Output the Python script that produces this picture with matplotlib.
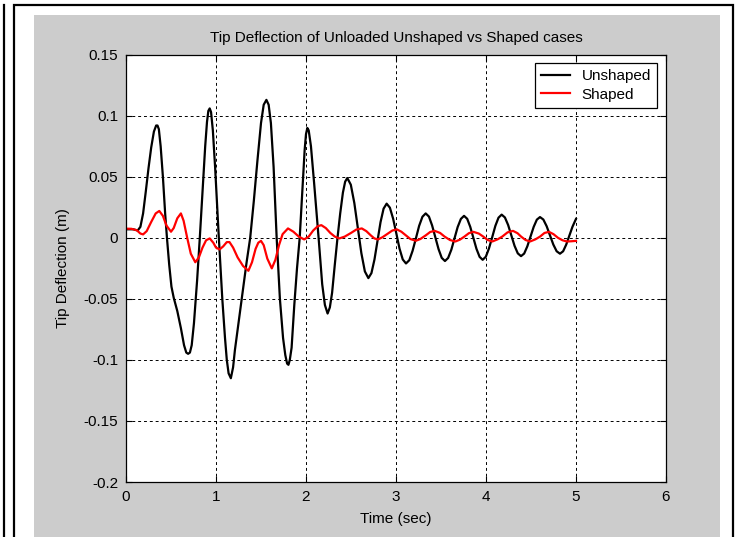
import matplotlib
matplotlib.use("Agg")
import matplotlib.pyplot as plt
from matplotlib.patches import Rectangle
from matplotlib.lines import Line2D

# ---------------- data ----------------
t_unshaped = [0.00, 0.08, 0.13, 0.16, 0.19, 0.22, 0.25, 0.28, 0.31, 0.335, 0.35,
              0.365, 0.385, 0.41, 0.435, 0.455, 0.48, 0.505, 0.53, 0.57, 0.61,
              0.645, 0.67, 0.69, 0.71, 0.73, 0.755, 0.79, 0.82, 0.85, 0.88, 0.90,
              0.915, 0.93, 0.945, 0.965, 0.99, 1.03, 1.07, 1.10, 1.12, 1.14, 1.165,
              1.19, 1.21, 1.25, 1.30, 1.34, 1.38, 1.42, 1.46, 1.50, 1.53, 1.56,
              1.585, 1.61, 1.64, 1.674, 1.71, 1.745, 1.77, 1.79, 1.805, 1.82, 1.84,
              1.87, 1.90, 1.93, 1.96, 1.985, 2.00, 2.015, 2.03, 2.055, 2.09, 2.14,
              2.18, 2.21, 2.24, 2.265, 2.29, 2.32, 2.35, 2.38, 2.41, 2.435, 2.459,
              2.498, 2.537, 2.576, 2.615, 2.654, 2.693,
              2.727, 2.761, 2.795, 2.828, 2.862, 2.896,
              2.932, 2.968, 3.004, 3.039, 3.075, 3.111,
              3.148, 3.184, 3.221, 3.257, 3.294, 3.330,
              3.366, 3.401, 3.437, 3.473, 3.508, 3.544,
              3.579, 3.615, 3.650, 3.685, 3.721, 3.756,
              3.791, 3.825, 3.860, 3.894, 3.929, 3.963,
              3.998, 4.033, 4.069, 4.104, 4.139, 4.174,
              4.210, 4.246, 4.282, 4.317, 4.353, 4.389,
              4.424, 4.459, 4.495, 4.530, 4.565, 4.600,
              4.637, 4.674, 4.711, 4.748, 4.785, 4.822,
              4.857, 4.891, 4.926, 4.961, 4.995, 5.000]
y_unshaped = [0.007, 0.007, 0.006, 0.009, 0.020, 0.038, 0.057, 0.074, 0.087, 0.092, 0.092,
              0.089, 0.075, 0.050, 0.020, 0.000, -0.022, -0.040, -0.049, -0.060, -0.074,
              -0.088, -0.094, -0.095, -0.094, -0.088, -0.070, -0.035, 0.000, 0.038, 0.075, 0.095,
              0.104, 0.106, 0.103, 0.088, 0.058, 0.002, -0.050, -0.082, -0.100, -0.111, -0.115,
              -0.106, -0.092, -0.070, -0.042, -0.020, 0.000, 0.030, 0.063, 0.094, 0.109, 0.113,
              0.109, 0.094, 0.058, 0.000, -0.050, -0.082, -0.096, -0.103, -0.104, -0.100, -0.090,
              -0.055, -0.025, 0.000, 0.040, 0.072, 0.085, 0.090, 0.088, 0.075, 0.045, 0.000,
              -0.038, -0.055, -0.062, -0.057, -0.045, -0.022, 0.000, 0.020, 0.037, 0.046, 0.049,
              0.0435, 0.0285, 0.008, -0.0125, -0.0275, -0.033,
              -0.0289, -0.0177, -0.0025, 0.0128, 0.0239, 0.028,
              0.0247, 0.0157, 0.0035, -0.0088, -0.0177, -0.021,
              -0.0183, -0.0107, -0.0005, 0.0098, 0.0173, 0.020,
              0.0174, 0.0102, 0.0005, -0.0093, -0.0164, -0.019,
              -0.0165, -0.0097, -0.0005, 0.0088, 0.0155, 0.018,
              0.0156, 0.0090, 0.0000, -0.0090, -0.0156, -0.018,
              -0.0155, -0.0087, 0.0005, 0.0098, 0.0165, 0.019,
              0.0167, 0.0105, 0.0020, -0.0065, -0.0127, -0.015,
              -0.0129, -0.0070, 0.0010, 0.0090, 0.0149, 0.017,
              0.0150, 0.0095, 0.0020, -0.0055, -0.0110, -0.013,
              -0.0110, -0.0056, 0.0018, 0.0091, 0.0145, 0.0155]

t_shaped = [0.00, 0.06, 0.12, 0.16, 0.19, 0.23, 0.28, 0.33, 0.37, 0.41, 0.45, 0.50,
            0.53, 0.57, 0.61, 0.64, 0.68, 0.72, 0.77, 0.81, 0.85, 0.89, 0.93, 0.97,
            1.00, 1.04, 1.08, 1.12, 1.15, 1.19, 1.24, 1.30, 1.36, 1.40, 1.44, 1.47,
            1.50, 1.53, 1.57, 1.62, 1.66, 1.70, 1.74, 1.80, 1.86, 1.92, 1.98, 2.03,
            2.08, 2.13, 2.17, 2.22, 2.27, 2.32, 2.37, 2.43, 2.50, 2.56, 2.62, 2.67,
            2.72, 2.76, 2.80, 2.85, 2.90, 2.96, 3.01, 3.06, 3.11, 3.16, 3.22, 3.27,
            3.33, 3.38, 3.43, 3.49, 3.54, 3.60, 3.66, 3.71, 3.76, 3.81, 3.86, 3.92,
            3.97, 4.02, 4.07, 4.13, 4.18, 4.24, 4.30, 4.35, 4.39, 4.44, 4.49, 4.55,
            4.60, 4.65, 4.70, 4.75, 4.80, 4.85, 4.90, 4.95, 5.00]
y_shaped = [0.0075, 0.0074, 0.0062, 0.0035, 0.0028, 0.0055, 0.013, 0.020, 0.022, 0.018, 0.010, 0.005,
            0.008, 0.016, 0.020, 0.014, 0.000, -0.013, -0.020, -0.016, -0.008, -0.002, -0.0005, -0.004,
            -0.008, -0.0095, -0.007, -0.0035, -0.0035, -0.008, -0.016, -0.023, -0.027, -0.020, -0.009, -0.004,
            -0.0025, -0.006, -0.017, -0.025, -0.018, -0.006, 0.003, 0.0077, 0.005, 0.001, -0.0013, 0.001,
            0.006, 0.0095, 0.0104, 0.008, 0.004, 0.001, -0.0005, 0.001, 0.004, 0.0068, 0.0077, 0.0055,
            0.002, -0.0005, -0.0013, 0.0005, 0.003, 0.0060, 0.0069, 0.005, 0.002, -0.0010, -0.0024, -0.001,
            0.002, 0.0048, 0.0057, 0.004, 0.001, -0.0018, -0.003, -0.0015, 0.001, 0.0038, 0.0049, 0.0035,
            0.001, -0.0018, -0.003, -0.0012, 0.001, 0.0045, 0.0057, 0.0038, 0.001, -0.0018, -0.003, -0.0012,
            0.001, 0.0040, 0.0049, 0.003, 0.000, -0.002, -0.003, -0.0028, -0.0025]

series_labels = ["Unshaped", "Shaped"]
x_ticks = [0, 1, 2, 3, 4, 5, 6]
y_ticks = [0.15, 0.1, 0.05, 0, -0.05, -0.1, -0.15, -0.2]
y_tick_labels = ["0.15", "0.1", "0.05", "0", "-0.05", "-0.1", "-0.15", "-0.2"]
title = "Tip Deflection of Unloaded Unshaped vs Shaped cases"
xlabel = "Time (sec)"
ylabel = "Tip Deflection (m)"

# ---------------- figure ----------------
W, H = 738, 537
plt.rcParams['font.family'] = ['Liberation Sans', 'DejaVu Sans']
fig = plt.figure(figsize=(W / 100, H / 100), dpi=100)
fig.patch.set_facecolor('white')

def px_rect(x0, y0, x1, y1, **kw):
    # pixel coords from top-left
    return Rectangle((x0 / W, 1 - y1 / H), (x1 - x0) / W, (y1 - y0) / H,
                     transform=fig.transFigure, **kw)

# decorative frame lines (behind the axes)
fig.add_artist(Line2D([4 / W, 4 / W], [0, 1 - 5 / H], transform=fig.transFigure,
                      color='black', lw=1.6, zorder=-10))
fig.add_artist(px_rect(14, 5, 733, 545, facecolor='white', edgecolor='black',
                       lw=1.6, zorder=-10))
fig.add_artist(px_rect(34, 15, 720, 545, facecolor='#cccccc', edgecolor='none',
                       zorder=-9))

ax_l, ax_r, ax_t, ax_b = 126, 666, 54.7, 482
ax = fig.add_axes([ax_l / W, 1 - ax_b / H, (ax_r - ax_l) / W, (ax_b - ax_t) / H])
ax.set_zorder(1)
ax.set_facecolor('white')

ax.plot(t_unshaped, y_unshaped, color='black', lw=1.6, label=series_labels[0])
ax.plot(t_shaped, y_shaped, color='#ff0000', lw=1.6, label=series_labels[1])

ax.set_xlim(0, 6)
ax.set_ylim(-0.2, 0.15)
ax.set_xticks(x_ticks)
ax.set_xticklabels([str(v) for v in x_ticks])
ax.set_yticks(y_ticks)
ax.set_yticklabels(y_tick_labels)

fs = 11
ax.tick_params(direction='in', length=4, width=0.8, top=True, right=True,
               labelsize=fs, pad=5.5, colors='black')
ax.grid(True, color='black', linestyle=(0, (3, 3)), lw=0.7)
for s in ax.spines.values():
    s.set_linewidth(0.9)
    s.set_color('black')

ax.set_title(title, fontsize=fs, pad=9)
ax.set_xlabel(xlabel, fontsize=fs, labelpad=6)
ax.set_ylabel(ylabel, fontsize=fs, labelpad=10)

leg = ax.legend(loc='upper right', bbox_to_anchor=((657 - ax_l) / (ax_r - ax_l),
                                                   (ax_b - 63) / (ax_b - ax_t)),
                fontsize=fs, frameon=True, fancybox=False, framealpha=1,
                edgecolor='black', borderaxespad=0, handlelength=1.9,
                handletextpad=0.75, borderpad=0.4, labelspacing=0.3)
leg.get_frame().set_linewidth(0.9)

fig.savefig("out.png", dpi=100)
